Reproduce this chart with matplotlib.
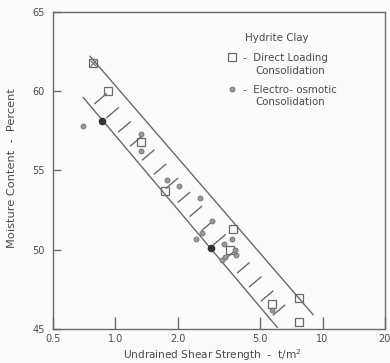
import matplotlib.pyplot as plt
from matplotlib.ticker import NullLocator
import numpy as np

# ~~~~~~~~~~~~~~~~ donnees ~~~~~~~~~~~~~~~~

# consolidation par chargement direct (carres)
sq_x = [0.78, 0.925, 1.33, 1.74, 3.69, 3.58, 7.66, 5.7, 7.7]
sq_y = [61.8, 60.0, 56.8, 53.7, 51.3, 49.95, 46.95, 46.55, 45.45]

# consolidation electro-osmotique (petits cercles)
ci_x = [0.70, 1.33, 1.33, 1.77, 2.03, 2.55, 2.92, 2.61, 2.45, 3.35, 3.65,
        3.37, 3.83, 3.79, 3.27, 5.7]
ci_y = [57.8, 57.3, 56.2, 54.4, 54.0, 53.25, 51.8, 51.05, 50.7, 50.35, 50.65,
        49.55, 49.65, 50.0, 49.35, 46.2]

# points pleins
dot_x = [0.865, 2.9]
dot_y = [58.1, 50.1]

# bande (limites haute et basse)
up_x = [0.755, 9.0]
up_y = [62.2, 45.9]
lo_x = [0.70, 6.04]
lo_y = [59.6, 45.1]

xticks = [0.5, 1, 2, 5, 10, 20]
xlabels = ["0.5", "1.0", "2.0", "5.0", "10", "20"]
yticks = [45, 50, 55, 60, 65]

# ~~~~~~~~~~~~~~~~ figure ~~~~~~~~~~~~~~~~
gris = "#6a6a6a"
txt = "#4a4a4a"

fig = plt.figure(figsize=(3.9, 3.63), dpi=100, facecolor="#fbfbfb")
ax = fig.add_axes([0.136, 0.094, 0.851, 0.873])
ax.set_facecolor("#fbfbfb")
ax.set_xscale("log")
ax.set_xlim(0.5, 20)
ax.set_ylim(45, 65)

for s in ax.spines.values():
    s.set_color(gris)
    s.set_linewidth(1.0)

# les deux droites de la bande
ax.plot(up_x, up_y, color=gris, lw=1.0)
ax.plot(lo_x, lo_y, color=gris, lw=1.0)

# hachures perpendiculaires dans la bande (calcul en pixels)
p0 = ax.transData.transform((lo_x[0], lo_y[0]))
p1 = ax.transData.transform((lo_x[1], lo_y[1]))
d = (p1 - p0) / np.hypot(*(p1 - p0))
n = np.array([-d[1], d[0]])
inv = ax.transData.inverted()
for t in np.linspace(0.04, 0.96, 16):
    c = p0 + t * (p1 - p0)
    a = inv.transform(c + 5 * n)
    b = inv.transform(c + 20 * n)
    ax.plot([a[0], b[0]], [a[1], b[1]], color=gris, lw=1.0)

# les points
ax.plot(sq_x, sq_y, "s", ms=5.5, mfc="none", mec=gris, mew=0.9)
ax.plot(ci_x, ci_y, "o", ms=3.5, mfc="#9a9a9a", mec="#777777", mew=0.7)
ax.plot(dot_x, dot_y, "o", ms=4.5, color="#333333")
# petite croix dans le premier carre
ax.plot(sq_x[:1], sq_y[:1], "x", ms=4, mec=gris, mew=0.8)

# axes et graduations
ax.set_xticks(xticks)
ax.set_xticklabels(xlabels)
ax.xaxis.set_minor_locator(NullLocator())
ax.set_yticks(yticks)
ax.tick_params(axis="x", direction="in", length=9, width=1.0, color=gris,
               labelsize=7, labelcolor=txt, pad=4)
ax.tick_params(axis="y", direction="in", length=6, width=1.0, color=gris,
               labelsize=7, labelcolor=txt, pad=6)

fig.text(212 / 390, 1 - 355 / 363, "Undrained Shear Strength  -  t/m$^2$",
         ha="center", va="center", fontsize=7.6, color=txt)
fig.text(12 / 390, 1 - 168 / 363, "Moisture Content  -  Percent",
         ha="center", va="center", rotation=90, fontsize=8.2, color=txt)

# legende ecrite a la main
ax.text(0.675, 0.918, "Hydrite Clay", transform=ax.transAxes, ha="center",
        va="center", fontsize=7.4, color=txt)
ax.plot([0.539], [0.858], "s", ms=5.5, mfc="none", mec=gris, mew=0.9,
        transform=ax.transAxes)
ax.text(0.572, 0.855, "-  Direct Loading", transform=ax.transAxes,
        va="center", fontsize=7.4, color=txt)
ax.text(0.611, 0.814, "Consolidation", transform=ax.transAxes,
        va="center", fontsize=7.4, color=txt)
ax.plot([0.539], [0.757], "o", ms=3.5, mfc="#9a9a9a", mec="#777777", mew=0.7,
        transform=ax.transAxes)
ax.text(0.572, 0.754, "-  Electro- osmotic", transform=ax.transAxes,
        va="center", fontsize=7.4, color=txt)
ax.text(0.611, 0.716, "Consolidation", transform=ax.transAxes,
        va="center", fontsize=7.4, color=txt)

fig.savefig("out.png", dpi=100, facecolor=fig.get_facecolor())
